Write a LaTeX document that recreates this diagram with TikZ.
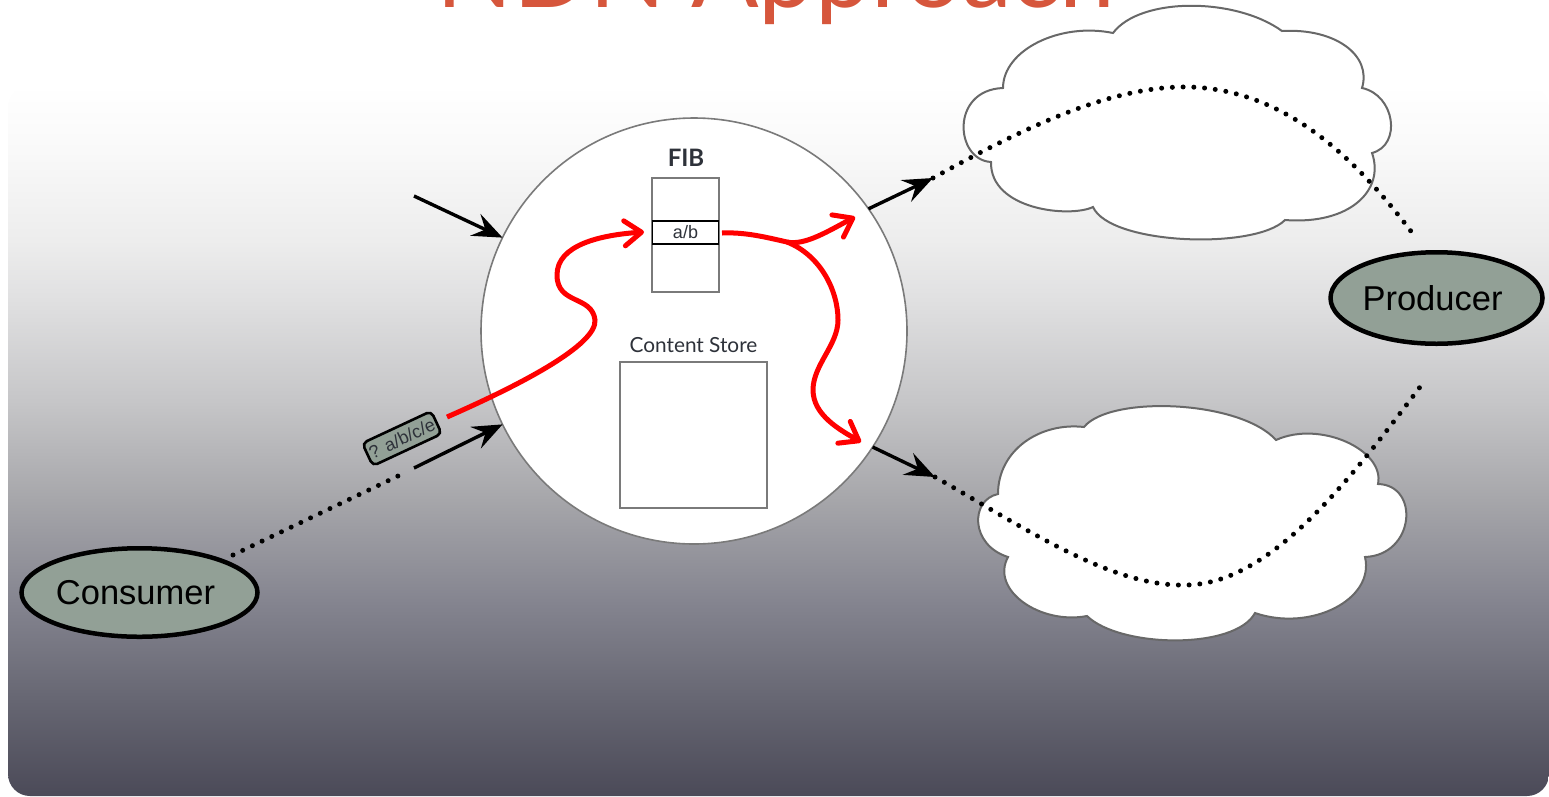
\documentclass[tikz,border=0pt]{standalone}
\usepackage{fontspec}
\setmainfont{Liberation Sans}
\newfontfamily\lato{Lato}
\usetikzlibrary{arrows.meta,shapes.geometric}
\definecolor{sage}{HTML}{92A096}
\definecolor{titlered}{HTML}{D6563C}
\definecolor{edgegray}{HTML}{7A7A7A}
\definecolor{labelink}{HTML}{2E323A}
\definecolor{c0}{HTML}{4B4A58}
\definecolor{c1}{HTML}{666672}
\definecolor{c2}{HTML}{858590}
\definecolor{c3}{HTML}{A6A6AA}
\definecolor{c4}{HTML}{C6C6C8}
\definecolor{c5}{HTML}{E0E0E1}
\definecolor{c6}{HTML}{EDEDED}
\definecolor{c7}{HTML}{F9F9F9}
\definecolor{c8}{HTML}{FFFFFF}
\pgfdeclareverticalshading{slidebg}{100bp}{
 color(0bp)=(c0);
 color(25bp)=(c0);
 color(31.7bp)=(c1);
 color(38.8bp)=(c2);
 color(45.8bp)=(c3);
 color(52.8bp)=(c4);
 color(59.9bp)=(c5);
 color(64.1bp)=(c6);
 color(70.4bp)=(c7);
 color(75bp)=(c8);
 color(100bp)=(c8)}
\tikzset{
 cloudshape/.style={draw=edgegray!85!black,line width=2pt,fill=white},
 hostnode/.style={ellipse,draw=black,line width=4.5pt,fill=sage,inner sep=0pt,font=\fontsize{34.5pt}{36pt}\selectfont},
 tablebox/.style={rectangle,draw=edgegray,line width=2.6pt,fill=white,inner sep=0pt,outer sep=0pt},
 blackarrow/.style={line width=3.4pt,black,-{Stealth[length=30pt,width=24pt,inset=11pt]}},
 redpath/.style={line width=5pt,red,line cap=butt},
 redarrow/.style={redpath,-{Straight Barb[length=17pt,width=25pt,round]}},
 dots/.style={line width=5pt,black,line cap=round,dash pattern=on 0pt off 10.75pt},
 boxlabel/.style={text=labelink,inner sep=0pt}
}
\begin{document}
\begin{tikzpicture}[x=1pt,y=-1pt]
\useasboundingbox (0,0) rectangle (1549,796);
% slide background
\path[shading=slidebg,rounded corners=22pt] (8,85) rectangle (1549,796);
% title, cut by the page top
\node[anchor=base,inner sep=0pt,text=titlered,font=\lato\fontsize{100pt}{102pt}\selectfont] (title) at (776,7) {NDN Approach};
% clouds
\path[cloudshape] (1003,88) .. controls (1003,50) and (1060,22) .. (1113,33)
 .. controls (1140,-3) and (1235,-3) .. (1282,31)
 .. controls (1335,28) and (1372,55) .. (1362,88)
 .. controls (1395,95) and (1402,145) .. (1372,153)
 .. controls (1385,190) and (1350,225) .. (1285,220)
 .. controls (1255,250) and (1110,245) .. (1093,207)
 .. controls (1070,218) and (990,210) .. (991,162)
 .. controls (955,160) and (950,90) .. (1003,88) -- cycle;
\path[cloudshape] (998,494) .. controls (998,450) and (1040,422) .. (1084,427)
 .. controls (1110,395) and (1240,400) .. (1276,440)
 .. controls (1320,420) and (1385,450) .. (1378,484)
 .. controls (1420,485) and (1415,555) .. (1365,557)
 .. controls (1375,600) and (1310,632) .. (1255,613)
 .. controls (1235,650) and (1120,648) .. (1087,616)
 .. controls (1040,625) and (990,590) .. (1008,557)
 .. controls (970,545) and (970,500) .. (998,494) -- cycle;
% router
\node[circle,draw=edgegray,line width=1.6pt,fill=white,minimum size=426pt,inner sep=0pt,outer sep=0pt] (router) at (694,331) {};
\node[tablebox,minimum width=67pt,minimum height=114pt] (fib) at (685.5,235) {};
\node[rectangle,draw=black,line width=1.2pt,fill=white,minimum width=66pt,minimum height=23pt,inner sep=0pt,outer sep=0pt,font=\fontsize{18pt}{20pt}\selectfont,text=labelink] (entry) at (685.5,232.5) {a/b};
\node[tablebox,minimum width=147pt,minimum height=146pt] (store) at (693.5,435) {};
\node[boxlabel,font=\lato\bfseries\fontsize{24pt}{26pt}\selectfont] (fiblabel) at (686,158) {FIB};
\node[boxlabel,font=\lato\fontsize{20.8pt}{22pt}\selectfont] (storelabel) at (693.5,345) {Content Store};
% hosts
\node[hostnode,minimum width=236pt,minimum height=88.5pt] (consumer) at (139.5,592.5) {\kern-8pt\raisebox{-1.5pt}{Consumer}};
\node[hostnode,minimum width=212pt,minimum height=91.5pt] (producer) at (1436.5,298) {\kern-8pt\raisebox{-1pt}{Producer}};
% interest packet
\node[rectangle,rounded corners=5pt,rotate=25,draw=black,line width=2.6pt,fill=sage,minimum width=76pt,minimum height=25pt,inner sep=0pt,font=\fontsize{18pt}{20pt}\selectfont,text=labelink] (tag) at (402,438.5) {? a/b/c/e};
% free ends
\coordinate (consumerdots) at (233,555);
\coordinate (tagdots) at (398,476);
\coordinate (inA) at (414,196);
\coordinate (inB) at (414,468);
\coordinate (outA) at (933,178);
\coordinate (outB) at (935,477);
\coordinate (producerA) at (1413,234);
\coordinate (producerB) at (1423,383);
\coordinate (redstart) at (447,417);
\coordinate (redfib) at (644,232);
\coordinate (redfibout) at (722,233);
\coordinate (fork) at (787,242);
\coordinate (redoutA) at (855,217);
\coordinate (redoutB) at (861,442);
% dotted links
\draw[dots] (consumerdots) -- (tagdots);
\draw[dots] (outA) .. controls (1020,130) and (1110,85) .. (1190,87) .. controls (1280,90) and (1350,150) .. (producerA);
\draw[dots] (outB) .. controls (1020,525) and (1110,587) .. (1185,585) .. controls (1270,585) and (1350,480) .. (producerB);
% black arrows
\draw[blackarrow] (inA) -- (router.154);
\draw[blackarrow] (inB) -- (router.206.6);
\draw[blackarrow] (router.35) -- (outA);
\draw[blackarrow] (router.-33) -- (outB);
% red paths
\draw[redarrow] (redstart) .. controls (520,385) and (597,345) .. (595,320) .. controls (592,295) and (557,305) .. (557,275) .. controls (557,245) and (600,235) .. (redfib);
\draw[redarrow] (redfibout) .. controls (745,232) and (765,237) .. (fork) .. controls (805,246) and (830,230) .. (redoutA);
\draw[redarrow] (fork) .. controls (820,255) and (838,290) .. (838,320) .. controls (838,345) and (813,365) .. (813,390) .. controls (813,415) and (840,430) .. (redoutB);
\end{tikzpicture}
\end{document}
